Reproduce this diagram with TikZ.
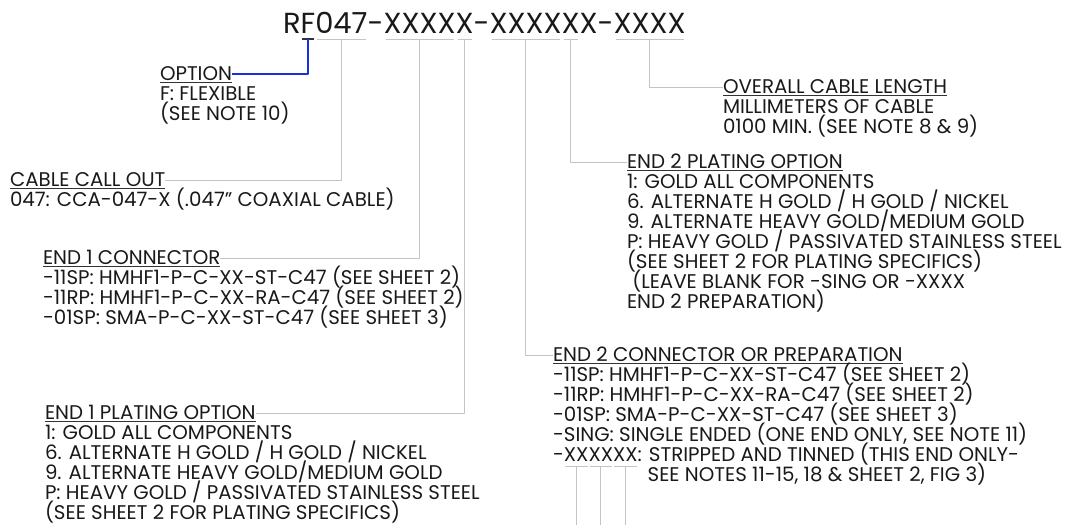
\documentclass[tikz,border=0pt]{standalone}
\usepackage{fontspec}
\setmainfont{Poppins}
\usetikzlibrary{calc}
\definecolor{leadgray}{RGB}{196,196,196}
\definecolor{optblue}{RGB}{25,45,225}
\tikzset{
  txt/.style={anchor=base west,inner sep=0pt,outer sep=0pt,text=black!90,font=\fontsize{19.8}{20}\selectfont},
  ttl/.style={txt,font=\fontsize{29}{30}\selectfont},
  lead/.style={draw=leadgray,line width=1pt},
  uline/.style={draw=black!80,line width=1.2pt},
  optline/.style={draw=optblue,line width=1.2pt}
}
\begin{document}
\begin{tikzpicture}[x=1pt,y=1pt,line join=round,line cap=butt]
\useasboundingbox (0,0) rectangle (1071,-525);
\node[ttl] (R) at (283,-33) {R};
\foreach \n/\t [remember=\n as \p (initially R)] in {F/F,a/047,d1/-,b/XXXX,c/X,d2/-,e/XXXX,f/X,g/X,d3/-,h/XXXX}
  \node[ttl] (\n) at (\p.base east) {\t};
\foreach \n in {a,b,c,e,f,h}
  \draw[lead] ([xshift=2pt,yshift=-6pt]\n.base west) -- ([xshift=-2pt,yshift=-6pt]\n.base east);
\draw[uline] ([xshift=1pt,yshift=-6pt]F.base west) -- ([xshift=-1pt,yshift=-6pt]F.base east);

\node[txt] (opt) at (160,-80) {OPTION};
\node[txt] (cco) at (10,-186) {CABLE CALL OUT};
\node[txt] (eoc) at (43,-264) {END 1 CONNECTOR};
\node[txt] (eop) at (45,-419) {END 1 PLATING OPTION};
\node[txt] (len) at (723,-93) {OVERALL CABLE LENGTH};
\node[txt] (etp) at (627,-168) {END 2 PLATING OPTION};
\node[txt] (etc) at (553,-361) {END 2 CONNECTOR OR PREPARATION};
\foreach \h in {opt,cco,eoc,eop,len,etp,etc}
  \draw[uline] ([yshift=-2.5pt]\h.base west) -- ([yshift=-2.5pt]\h.base east);

\foreach \t [count=\i] in {F: FLEXIBLE,(SEE NOTE 10)}
  \node[txt] (opt-\i) at ([yshift=-20*\i]opt.base west) {\t};
\node[txt] (cco-1) at ([yshift=-20]cco.base west) {047: CCA-047-X (.047" COAXIAL CABLE)};
\foreach \t [count=\i] in {-11SP: HMHF1-P-C-XX-ST-C47 (SEE SHEET 2),-11RP: HMHF1-P-C-XX-RA-C47 (SEE SHEET 2),-01SP: SMA-P-C-XX-ST-C47 (SEE SHEET 3)}
  \node[txt] (eoc-\i) at ([yshift=-20*\i]eoc.base west) {\t};
\foreach \t [count=\i] in {1: GOLD ALL COMPONENTS,6. ALTERNATE H GOLD / H GOLD / NICKEL,9. ALTERNATE HEAVY GOLD/MEDIUM GOLD,P: HEAVY GOLD / PASSIVATED STAINLESS STEEL,(SEE SHEET 2 FOR PLATING SPECIFICS)}
  \node[txt] (eop-\i) at ([yshift=-20*\i]eop.base west) {\t};
\foreach \t [count=\i] in {MILLIMETERS OF CABLE,0100 MIN. (SEE NOTE 8 \& 9)}
  \node[txt] (len-\i) at ([yshift=-20*\i]len.base west) {\t};
\foreach \t [count=\i] in {1: GOLD ALL COMPONENTS,6. ALTERNATE H GOLD / H GOLD / NICKEL,9. ALTERNATE HEAVY GOLD/MEDIUM GOLD,P: HEAVY GOLD / PASSIVATED STAINLESS STEEL,(SEE SHEET 2 FOR PLATING SPECIFICS),\ (LEAVE BLANK FOR -SING OR -XXXX,END 2 PREPARATION)}
  \node[txt] (etp-\i) at ([yshift=-20*\i]etp.base west) {\t};
\foreach \t [count=\i] in {-11SP: HMHF1-P-C-XX-ST-C47 (SEE SHEET 2),-11RP: HMHF1-P-C-XX-RA-C47 (SEE SHEET 2),-01SP: SMA-P-C-XX-ST-C47 (SEE SHEET 3),{-SING: SINGLE ENDED (ONE END ONLY, SEE NOTE 11)}}
  \node[txt] (etc-\i) at ([yshift=-20*\i]etc.base west) {\t};
\node[txt] (etc-5) at ([yshift=-100]etc.base west) {-};
\foreach \n/\t [remember=\n as \p (initially etc-5)] in {xa/XX,xb/XX,xc/XX,xr/: STRIPPED AND TINNED (THIS END ONLY-}
  \node[txt] (\n) at (\p.base east) {\t};
\node[txt] (etc-6) at ([xshift=10pt,yshift=-20]xr.base west) {SEE NOTES 11-15, 18 \& SHEET 2, FIG 3)};
\foreach \n in {xa,xb,xc}
  \draw[lead] ([xshift=1pt,yshift=-5pt]\n.base west) -- ([xshift=-1pt,yshift=-5pt]\n.base east)
    ([yshift=-5pt]\n.base) -- (\n.base |- 0,-525);

\draw[optline] ([yshift=-6pt]F.base) |- ([yshift=6pt]opt.base east);
\draw[lead] ([yshift=-6pt]a.base) |- ([yshift=6pt]cco.base east);
\draw[lead] ([yshift=-6pt]b.base) |- ([yshift=6pt]eoc.base east);
\draw[lead] ([yshift=-6pt]c.base) |- ([yshift=6pt]eop.base east);
\draw[lead] ([yshift=-6pt]e.base) |- ([yshift=6pt]etc.base west);
\draw[lead] ([yshift=-6pt]f.base) |- ([yshift=6pt]etp.base west);
\draw[lead] ([yshift=-6pt]h.base) |- ([yshift=6pt]len.base west);
\end{tikzpicture}
\end{document}
